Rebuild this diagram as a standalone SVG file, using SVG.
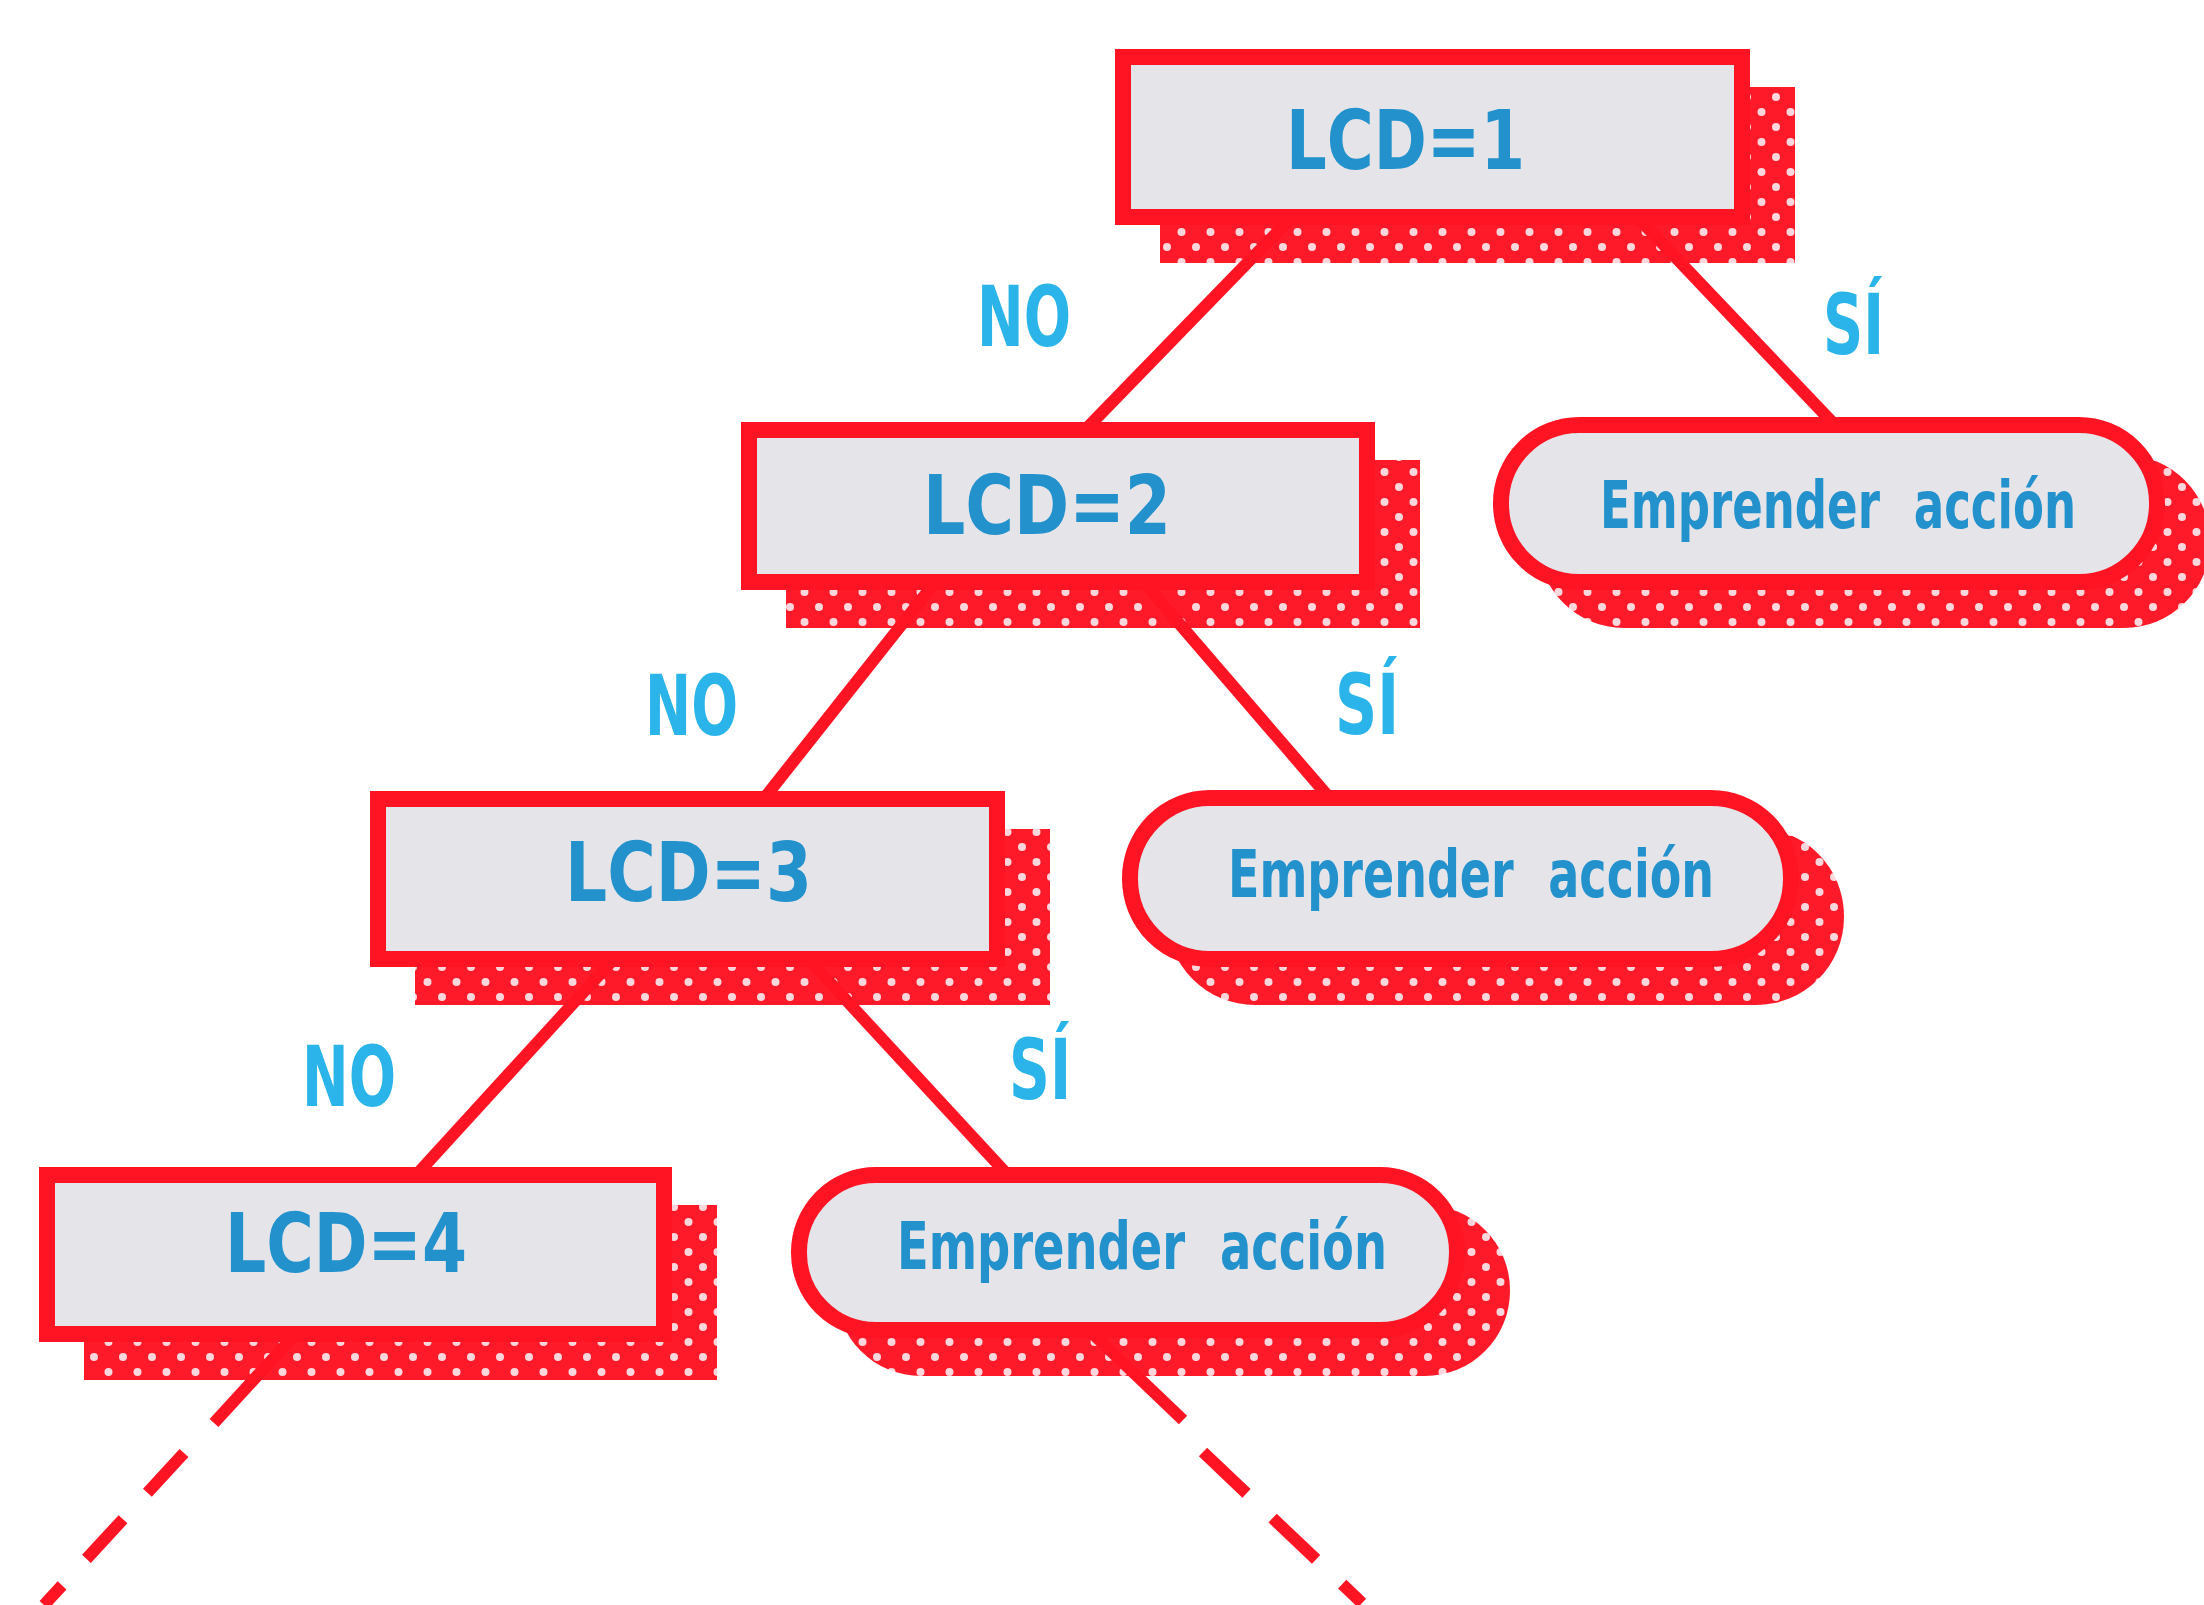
<svg xmlns="http://www.w3.org/2000/svg" width="2204" height="1605" viewBox="0 0 2204 1605">
<defs>
<pattern id="dots" patternUnits="userSpaceOnUse" width="29" height="30">
<rect width="29" height="30" fill="#ff1a2a"/>
<circle cx="7" cy="7" r="4" fill="#ffd6dc"/>
<circle cx="21.5" cy="22" r="4" fill="#ffd6dc"/>
</pattern>
<style>
.box{fill:#e4e4e9;stroke:#ff1424;stroke-width:16;stroke-linejoin:miter}
.sh{fill:url(#dots)}
.t{font-family:"Liberation Sans Narrow","DejaVu Sans Condensed","Liberation Sans",sans-serif;font-weight:bold;fill:#2291cc;text-anchor:start}
.lcd{font-size:82px}
.emp{font-size:66px;word-spacing:24px}
.lab{font-family:"Liberation Sans Narrow","DejaVu Sans Condensed","Liberation Sans",sans-serif;font-weight:bold;fill:#2ab4ea;font-size:84px}
.c{stroke:#ff1424;stroke-width:12;fill:none;stroke-linecap:butt}
</style>
</defs>
<rect width="2204" height="1605" fill="#ffffff"/>

<g id="node-lcd1">
<rect class="sh" x="1160" y="87" width="635" height="176"/>
<rect class="box" x="1123" y="57" width="619" height="160"/>
<text class="t lcd" x="1286" y="169" textLength="239" lengthAdjust="spacingAndGlyphs">LCD=1</text>
</g>
<g id="node-lcd2">
<rect class="sh" x="786" y="460" width="634" height="168"/>
<rect class="box" x="749" y="430" width="618" height="152"/>
<text class="t lcd" x="923" y="534" textLength="248" lengthAdjust="spacingAndGlyphs">LCD=2</text>
</g>
<g id="node-lcd3">
<rect class="sh" x="415" y="829" width="635" height="176"/>
<rect class="box" x="378" y="799" width="619" height="160"/>
<text class="t lcd" x="565" y="901" textLength="247" lengthAdjust="spacingAndGlyphs">LCD=3</text>
</g>
<g id="node-lcd4">
<rect class="sh" x="84" y="1205" width="633" height="175"/>
<rect class="box" x="47" y="1175" width="617" height="159"/>
<text class="t lcd" x="225" y="1272" textLength="242" lengthAdjust="spacingAndGlyphs">LCD=4</text>
</g>
<g id="node-act1">
<rect class="sh" x="1538" y="455" width="672" height="173" rx="86"/>
<rect class="box" x="1501" y="425" width="656" height="157" rx="78"/>
<text class="t emp" x="1600" y="528" textLength="476" lengthAdjust="spacingAndGlyphs">Emprender acción</text>
</g>
<g id="node-act2">
<rect class="sh" x="1167" y="828" width="677" height="177" rx="88"/>
<rect class="box" x="1130" y="798" width="661" height="161" rx="80"/>
<text class="t emp" x="1228" y="897" textLength="486" lengthAdjust="spacingAndGlyphs">Emprender acción</text>
</g>
<g id="node-act3">
<rect class="sh" x="836" y="1205" width="674" height="171" rx="85"/>
<rect class="box" x="799" y="1175" width="658" height="155" rx="77"/>
<text class="t emp" x="897" y="1269" textLength="490" lengthAdjust="spacingAndGlyphs">Emprender acción</text>
</g>

<g id="connectors">
<line class="c" x1="1289" y1="220" x2="1087" y2="428"/>
<line class="c" x1="1640" y1="220" x2="1832" y2="422"/>
<line class="c" x1="933" y1="585" x2="766" y2="796"/>
<line class="c" x1="1146" y1="585" x2="1327" y2="795"/>
<line class="c" x1="611" y1="962" x2="419" y2="1172"/>
<line class="c" x1="811" y1="962" x2="1005" y2="1172"/>
<line class="c" x1="292" y1="1338" x2="214" y2="1423"/>
<line class="c" x1="184" y1="1453" x2="44" y2="1605" stroke-dasharray="54 36"/>
<line class="c" x1="1093" y1="1334" x2="1183" y2="1420"/>
<line class="c" x1="1203" y1="1452" x2="1362" y2="1603" stroke-dasharray="60 36"/>
</g>

<g id="labels">
<text class="lab" x="977" y="346" textLength="94" lengthAdjust="spacingAndGlyphs">NO</text>
<text class="lab" x="1823" y="354" textLength="61" lengthAdjust="spacingAndGlyphs">SÍ</text>
<text class="lab" x="645" y="735" textLength="93" lengthAdjust="spacingAndGlyphs">NO</text>
<text class="lab" x="1335" y="734" textLength="64" lengthAdjust="spacingAndGlyphs">SÍ</text>
<text class="lab" x="302" y="1106" textLength="94" lengthAdjust="spacingAndGlyphs">NO</text>
<text class="lab" x="1009" y="1099" textLength="62" lengthAdjust="spacingAndGlyphs">SÍ</text>
</g>
</svg>
